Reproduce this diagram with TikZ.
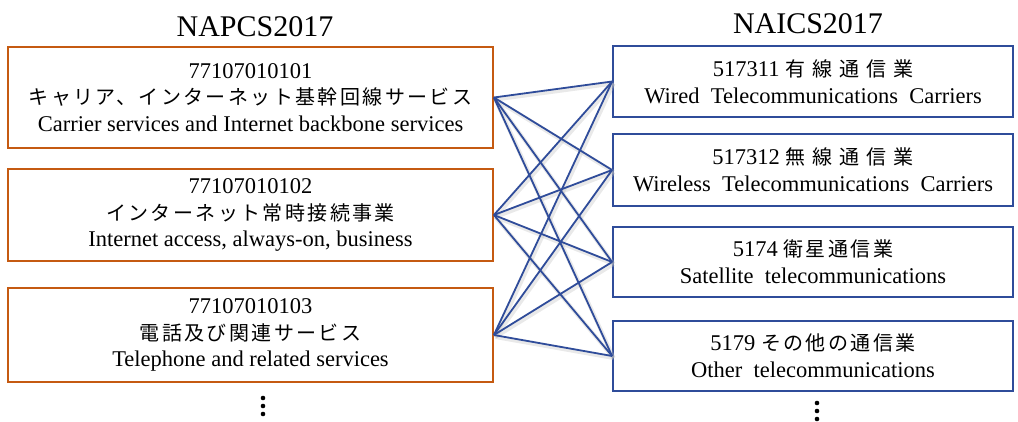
\documentclass[tikz,border=0pt]{standalone}
\usepackage{fontspec}
\setmainfont{Liberation Serif}
\newfontfamily\jpa{Noto Sans CJK JP}[LetterSpace=12]
\newfontfamily\jpb{Noto Sans CJK JP}[LetterSpace=35]
\definecolor{orng}{HTML}{C55A11}
\definecolor{navy}{HTML}{2F4C9A}
\begin{document}
\begin{tikzpicture}[x=1pt,y=-1pt,
  lbox/.style={draw=orng,line width=1.8pt,minimum width=485pt,align=center,inner sep=0pt,font=\fontsize{22.5}{26.5}\selectfont},
  rbox/.style={draw=navy,line width=1.8pt,minimum width=400pt,align=center,inner sep=0pt,font=\fontsize{22.5}{27}\selectfont},
  ttl/.style={font=\fontsize{30}{31}\selectfont},
  link/.style={draw=navy,line width=1.8pt},
  shade/.style={draw=black!25,line width=4pt,opacity=0.35},
  dotc/.style={fill=black}]
\useasboundingbox (0,0) rectangle (1018,421);
\node[ttl] (t1) at (255,27) {NAPCS2017};
\node[ttl] (t2) at (808,24) {NAICS2017};
\node[lbox,minimum height=101pt] (L1) at (250.5,97.5) {77107010101\\{\fontsize{20}{26.5}\selectfont\jpa キャリア、インターネット基幹回線サービス}\\Carrier services and Internet backbone services};
\node[lbox,minimum height=92pt] (L2) at (250.5,215) {77107010102\\{\fontsize{20}{26.5}\selectfont\jpa インターネット常時接続事業}\\Internet access, always-on, business};
\node[lbox,minimum height=94pt] (L3) at (250.5,335) {77107010103\\{\fontsize{20}{26.5}\selectfont\jpa 電話及び関連サービス}\\Telephone and related services};
\node[rbox,minimum height=71pt] (R1) at (813,81.5) {517311 {\fontsize{20}{27}\selectfont\jpb 有線通信業}\\Wired\ \ Telecommunications\ \ Carriers};
\node[rbox,minimum height=72pt] (R2) at (813,170) {517312 {\fontsize{20}{27}\selectfont\jpb 無線通信業}\\Wireless\ \ Telecommunications\ \ Carriers};
\node[rbox,minimum height=70pt] (R3) at (813,262) {5174 {\fontsize{20}{27}\selectfont\jpa 衛星通信業}\\Satellite\ \ telecommunications};
\node[rbox,minimum height=70pt] (R4) at (813,356) {5179 {\fontsize{20}{27}\selectfont\jpa その他の通信業}\\Other\ \ telecommunications};
\foreach \a in {L1,L2,L3}{
  \foreach \b in {R1,R2,R3,R4}{
    \draw[shade] ([shift={(1.5,2)}]\a.east) -- ([shift={(1.5,2)}]\b.west);
  }
}
\foreach \a in {L1,L2,L3}{
  \foreach \b in {R1,R2,R3,R4}{
    \draw[link] (\a.east) -- (\b.west);
  }
}
\foreach \y in {398,406,414}{
  \fill[dotc] (263,\y) circle (2.3);
  \fill[dotc] (817,\y+5) circle (2.3);
}
\end{tikzpicture}
\end{document}
